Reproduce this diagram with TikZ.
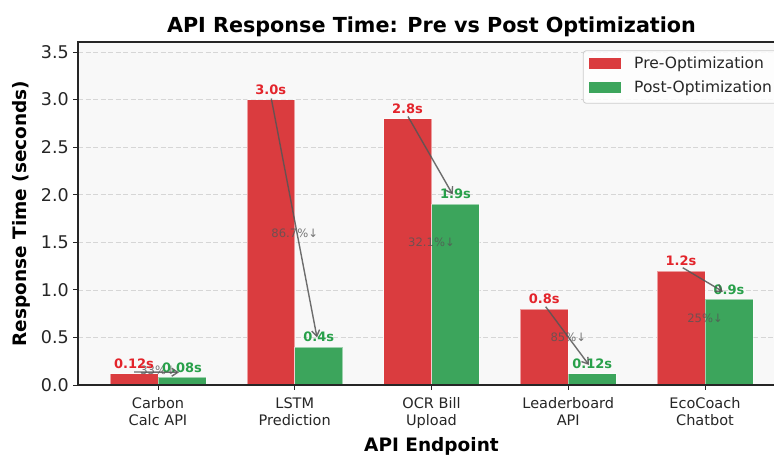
\documentclass[tikz,border=0pt]{standalone}
\usepackage{fontspec}
\setmainfont{DejaVu Sans}
\usetikzlibrary{arrows.meta}

\definecolor{prebar}{HTML}{DA3C3F}
\definecolor{postbar}{HTML}{3CA55C}
\definecolor{pretext}{HTML}{E3242B}
\definecolor{posttext}{HTML}{28A04A}
\definecolor{axbg}{HTML}{F8F8F8}
\definecolor{gridc}{HTML}{D6D6D6}
\definecolor{note}{HTML}{555555}

\tikzset{
  prefill/.style={fill=prebar, draw=white, draw opacity=0.5, line width=0.6pt},
  postfill/.style={fill=postbar, draw=white, draw opacity=0.5, line width=0.6pt},
  gridline/.style={draw=gridc, line width=0.8pt, dash pattern=on 5pt off 2.5pt},
  spine/.style={draw=black!85, line width=1.2pt},
  tickmark/.style={draw=black!85, line width=1pt},
  ytick/.style={anchor=east, inner sep=0pt, font=\fontsize{17.5}{20}\selectfont, text=black!85},
  xtick/.style={anchor=north, inner sep=0pt, align=center, font=\fontsize{14.5}{16.7}\selectfont, text=black!85},
  prelabel/.style={anchor=base, inner sep=0pt, text=pretext, font=\bfseries\fontsize{13}{15}\selectfont},
  postlabel/.style={anchor=base, inner sep=0pt, text=posttext, font=\bfseries\fontsize{13}{15}\selectfont},
  pct/.style={anchor=center, inner sep=0pt, text=note, text opacity=0.8, font=\fontsize{11.6}{13}\selectfont},
  drop/.style={draw=note, draw opacity=0.85, line width=1.4pt, -{Straight Barb[length=6pt,width=8pt]}},
  legtext/.style={anchor=base west, inner sep=0pt, font=\fontsize{15.5}{18}\selectfont, text=black!85},
}

\begin{document}
\begin{tikzpicture}[x=1pt,y=-1pt]
\useasboundingbox (0,0) rectangle (774,455);
\clip (0,0) rectangle (774,455);
\fill[white] (0,0) rectangle (774,455);

% plotting area
\fill[axbg] (78,42) rectangle (790,385);
\foreach \yy in {337.4,289.9,242.3,194.7,147.1,99.6,52.0}
  \draw[gridline] (78,\yy) -- (790,\yy);

% bars: pre (left) and post (right) for each endpoint
\filldraw[prefill]  (110.1,385) rectangle (158.0,373.6);
\filldraw[postfill] (158.0,385) rectangle (205.9,377.4);
\filldraw[prefill]  (246.85,385) rectangle (294.75,99.6);
\filldraw[postfill] (294.75,385) rectangle (342.65,346.9);
\filldraw[prefill]  (383.6,385) rectangle (431.5,118.6);
\filldraw[postfill] (431.5,385) rectangle (479.4,204.2);
\filldraw[prefill]  (520.35,385) rectangle (568.25,308.9);
\filldraw[postfill] (568.25,385) rectangle (616.15,373.6);
\filldraw[prefill]  (657.1,385) rectangle (705.0,270.8);
\filldraw[postfill] (705.0,385) rectangle (752.9,299.4);

% reduction percentages
\node[pct] (p1) at (158.0,369.8) {33\%↓};
\node[pct] (p2) at (294.75,232.8) {86.7\%↓};
\node[pct] (p3) at (431.5,242.3) {32.1\%↓};
\node[pct] (p4) at (568.25,337.4) {85\%↓};
\node[pct] (p5) at (705.0,318.4) {25\%↓};

% value labels
\node[prelabel]  (v1a) at (134.05,368.3) {0.12s};
\node[postlabel] (v1b) at (181.95,372.1) {0.08s};
\node[prelabel]  (v2a) at (270.8,94.3) {3.0s};
\node[postlabel] (v2b) at (318.7,341.6) {0.4s};
\node[prelabel]  (v3a) at (407.55,113.3) {2.8s};
\node[postlabel] (v3b) at (455.45,198.9) {1.9s};
\node[prelabel]  (v4a) at (544.3,303.6) {0.8s};
\node[postlabel] (v4b) at (592.2,368.3) {0.12s};
\node[prelabel]  (v5a) at (681.05,265.5) {1.2s};
\node[postlabel] (v5b) at (728.95,294.1) {0.9s};

% arrows from pre value to post value
\coordinate (a1s) at (134.1,372.0);  \coordinate (a1e) at (179.0,372.3);
\coordinate (a2s) at (271.3,98.5);   \coordinate (a2e) at (317.0,337.5);
\coordinate (a3s) at (408.0,116.5);  \coordinate (a3e) at (452.7,194.5);
\coordinate (a4s) at (545.7,306.7);  \coordinate (a4e) at (589.0,365.0);
\coordinate (a5s) at (682.7,267.7);  \coordinate (a5e) at (723.0,291.7);
\foreach \k in {1,...,5}
  \draw[drop] (a\k s) -- (a\k e);

% spines
\draw[spine] (78,385) -- (78,42) -- (790,42);
\draw[spine] (78,385) -- (790,385);

% y axis ticks
\foreach \yy/\lab [count=\i] in {385/0.0,337.4/0.5,289.9/1.0,242.3/1.5,194.7/2.0,147.1/2.5,99.6/3.0,52.0/3.5}{
  \draw[tickmark] (73,\yy) -- (78,\yy);
  \node[ytick] (yt\i) at (69,\yy) {\lab};
}

% x axis ticks
\foreach \xx/\lab [count=\i] in {158.0/{Carbon\\Calc API},294.75/{LSTM\\Prediction},431.5/{OCR Bill\\Upload},568.25/{Leaderboard\\API},705.0/{EcoCoach\\Chatbot}}{
  \draw[tickmark] (\xx,385) -- (\xx,390);
  \node[xtick] (xt\i) at (\xx,397.6) {\lab};
}

% axis titles and heading
\node[anchor=base, inner sep=0pt, font=\bfseries\fontsize{18.5}{20}\selectfont] (xlab) at (431.5,451.7) {API Endpoint};
\node[anchor=base, inner sep=0pt, rotate=90, font=\bfseries\fontsize{18.5}{20}\selectfont] (ylab) at (26.5,213.5) {Response Time (seconds)};
\node[anchor=base, inner sep=0pt, font=\bfseries\fontsize{20.7}{24}\selectfont] (title) at (431.5,32.3) {API Response Time: Pre vs Post Optimization};

% legend
\filldraw[fill=white, fill opacity=0.85, draw=black!20, line width=0.8pt, rounded corners=3pt] (583.3,50.7) rectangle (800,103.3);
\fill[prebar]  (589.3,58.3) rectangle (620.7,69.3);
\fill[postbar] (589.3,81.7) rectangle (620.7,92.7);
\node[legtext] (lg1) at (634,68.3) {Pre-Optimization};
\node[legtext] (lg2) at (634,92.3) {Post-Optimization};
\end{tikzpicture}
\end{document}
